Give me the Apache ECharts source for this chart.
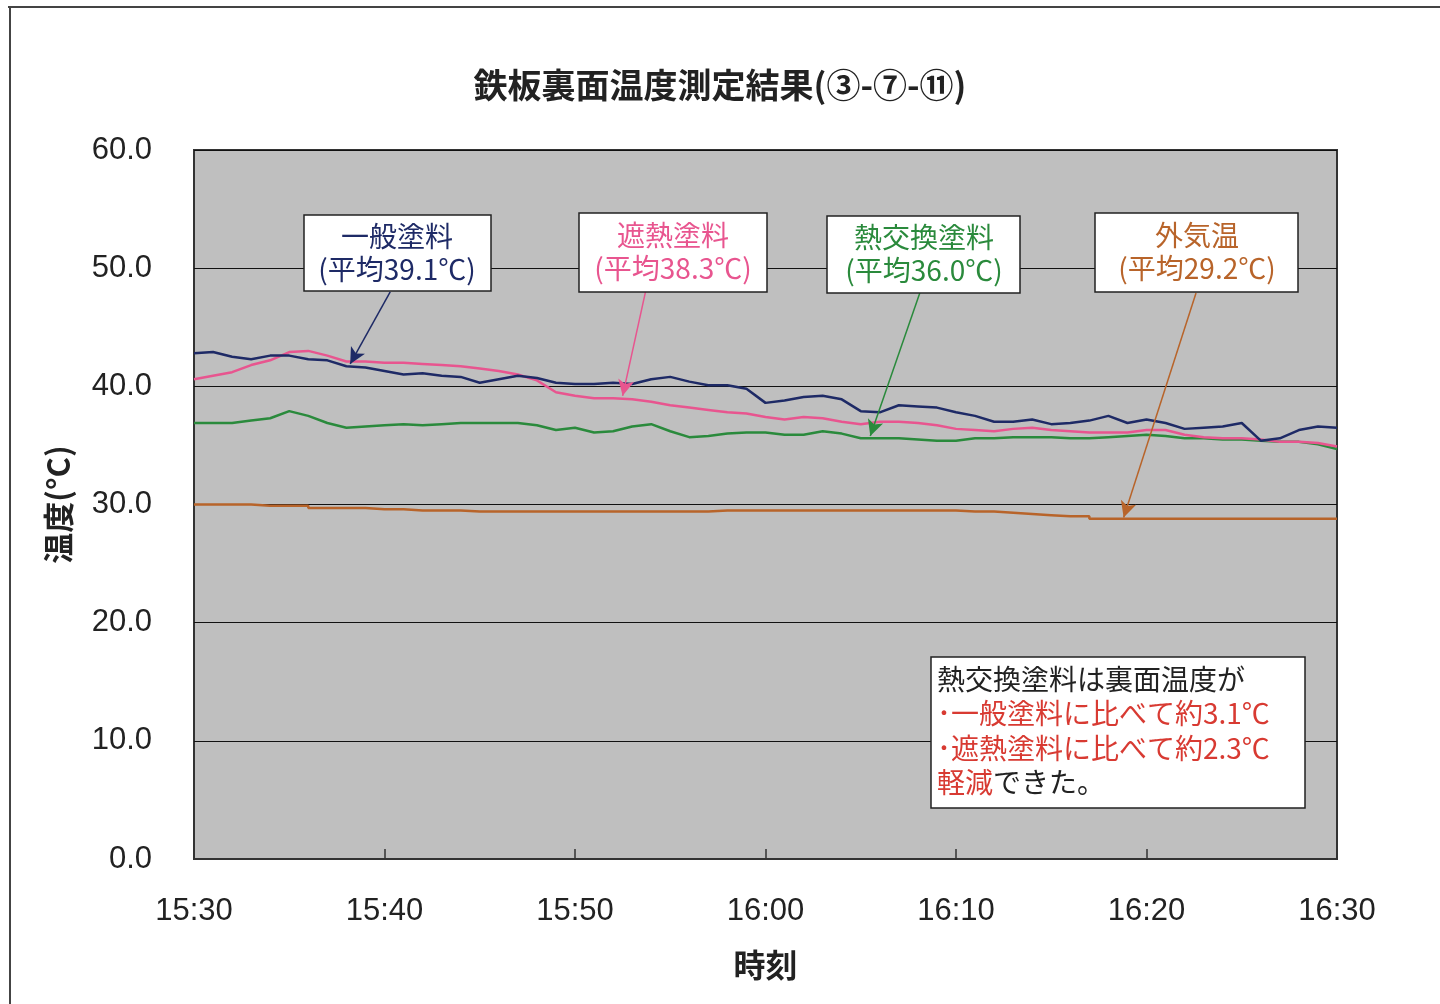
<!DOCTYPE html>
<html>
<head>
<meta charset="utf-8">
<script src="https://cdn.jsdelivr.net/npm/echarts@6/dist/echarts.min.js"></script>
<style>
html,body{margin:0;padding:0;background:#fff;}
#c{width:1440px;height:1004px;}
</style>
</head>
<body>
<div id="c"></div>
<script>
// minute offsets 0..60 from 15:30, one sample per minute
const xTickLabels = ['15:30','15:40','15:50','16:00','16:10','16:20','16:30'];
const yTickMin = 0, yTickMax = 60, yTickStep = 10;

const general = [42.8,42.9,42.5,42.3,42.6,42.6,42.3,42.2,41.7,41.6,
  41.3,41.0,41.1,40.9,40.8,40.3,40.6,40.9,40.7,40.3,
  40.2,40.2,40.3,40.2,40.6,40.8,40.4,40.1,40.1,39.8,
  38.6,38.8,39.1,39.2,38.9,37.9,37.8,38.4,38.3,38.2,
  37.8,37.5,37.0,37.0,37.2,36.8,36.9,37.1,37.5,36.9,
  37.2,36.9,36.4,36.5,36.6,36.9,35.4,35.6,36.3,36.6,36.5];
const heatShield = [40.6,40.9,41.2,41.8,42.2,42.9,43.0,42.6,42.1,42.1,
  42.0,42.0,41.9,41.8,41.7,41.5,41.3,41.0,40.5,39.5,
  39.2,39.0,39.0,38.9,38.7,38.4,38.2,38.0,37.8,37.7,
  37.4,37.2,37.4,37.3,37.0,36.8,37.0,37.0,36.9,36.7,
  36.4,36.3,36.2,36.4,36.5,36.3,36.2,36.1,36.1,36.1,
  36.3,36.3,35.9,35.7,35.6,35.6,35.5,35.3,35.3,35.2,34.9];
const heatExchange = [36.9,36.9,36.9,37.1,37.3,37.9,37.5,36.9,36.5,36.6,
  36.7,36.8,36.7,36.8,36.9,36.9,36.9,36.9,36.7,36.3,
  36.5,36.1,36.2,36.6,36.8,36.2,35.7,35.8,36.0,36.1,
  36.1,35.9,35.9,36.2,36.0,35.6,35.6,35.6,35.5,35.4,
  35.4,35.6,35.6,35.7,35.7,35.7,35.6,35.6,35.7,35.8,
  35.9,35.8,35.6,35.6,35.5,35.5,35.4,35.3,35.3,35.1,34.7];
const outdoor = [30.0,30.0,30.0,29.9,29.9,29.9,29.7,29.7,29.7,29.6,
  29.6,29.5,29.5,29.5,29.4,29.4,29.4,29.4,29.4,29.4,
  29.4,29.4,29.4,29.4,29.4,29.4,29.4,29.5,29.5,29.5,
  29.5,29.5,29.5,29.5,29.5,29.5,29.5,29.5,29.5,29.5,
  29.4,29.4,29.3,29.2,29.1,29.0,29.0,28.8,28.8,28.8,
  28.8,28.8,28.8,28.8,28.8,28.8,28.8,28.8,28.8,28.8,28.8];

// leader arrows: [from(minute,value), to(minute,value)]
const arrowGeneral = [[10.3,48.0],[8.2,41.9]];
const arrowShield = [[23.7,48.0],[22.5,39.2]];
const arrowExchange = [[38.1,47.9],[35.5,35.8]];
const arrowOutdoor = [[52.6,47.9],[48.8,28.9]];

const C_NAVY = '#1e2a66', C_PINK = '#e8558f', C_GREEN = '#2a8a3c', C_ORANGE = '#b8642a';
const CJK = '"Noto Sans CJK JP", "Liberation Sans", sans-serif';
const LAT = '"Liberation Sans", Arial, sans-serif';

function pairs(arr){ return arr.map((v,i)=>[i,v]); }
function arrow(a, color){
  return {
    silent:true, symbol:['none','arrow'], symbolSize:[12,16],
    label:{show:false},
    lineStyle:{color:color, width:1.5, type:'solid'},
    emphasis:{disabled:true},
    data:[[{coord:a[0]},{coord:a[1]}]]
  };
}

const chart = echarts.init(document.getElementById('c'));
function box(x,y,w,h){
  return {type:'rect', shape:{x:x,y:y,width:w,height:h}, style:{fill:'#fff', stroke:'#222', lineWidth:1.5}, z:100};
}
function txt(cx,cy,text,color){
  return {type:'text', x:cx, y:cy, z:101, style:{text:text, fill:color, font:'28px '+CJK, align:'center', verticalAlign:'middle'}};
}

chart.setOption({
  animation:false,
  backgroundColor:'#fff',
  title:{
    text:'鉄板裏面温度測定結果(③-⑦-⑪)',
    left:'center', top:63,
    textStyle:{fontFamily:CJK, fontSize:34, fontWeight:'bold', color:'#222'}
  },
  grid:{left:194, right:103, top:150, bottom:145, show:true, backgroundColor:'#bfbfbf', borderColor:'#333', borderWidth:2},
  xAxis:{
    type:'value', min:0, max:60, interval:10,
    name:'時刻', nameLocation:'middle', nameGap:90,
    nameTextStyle:{fontFamily:CJK, fontSize:32, fontWeight:'bold', color:'#222'},
    axisLine:{show:true, lineStyle:{color:'#333', width:2}},
    axisTick:{show:true, inside:true, length:10, lineStyle:{color:'#333', width:1.5}},
    splitLine:{show:false},
    axisLabel:{fontFamily:LAT, fontSize:31, color:'#222', margin:37,
      formatter:function(v){ return xTickLabels[Math.round(v/10)]; }}
  },
  yAxis:{
    type:'value', min:yTickMin, max:yTickMax, interval:yTickStep,
    name:'温度(°C)', nameLocation:'middle', nameGap:120, nameRotate:90,
    nameTextStyle:{fontFamily:CJK, fontSize:31, fontWeight:'bold', color:'#222'},
    axisLine:{show:false}, axisTick:{show:false},
    splitLine:{show:true, lineStyle:{color:'#111', width:1.2}},
    axisLabel:{fontFamily:LAT, fontSize:31, color:'#222', margin:42, padding:[8,0,0,0],
      formatter:function(v){ return v.toFixed(1); }}
  },
  series:[
    {name:'外気温', type:'line', data:pairs(outdoor), step:'end', showSymbol:false, lineStyle:{color:C_ORANGE, width:2.5}, itemStyle:{color:C_ORANGE}, markLine:arrow(arrowOutdoor,C_ORANGE)},
    {name:'熱交換塗料', type:'line', data:pairs(heatExchange), showSymbol:false, lineStyle:{color:C_GREEN, width:2.5}, itemStyle:{color:C_GREEN}, markLine:arrow(arrowExchange,C_GREEN)},
    {name:'遮熱塗料', type:'line', data:pairs(heatShield), showSymbol:false, lineStyle:{color:C_PINK, width:2.5}, itemStyle:{color:C_PINK}, markLine:arrow(arrowShield,C_PINK)},
    {name:'一般塗料', type:'line', data:pairs(general), showSymbol:false, lineStyle:{color:C_NAVY, width:2.5}, itemStyle:{color:C_NAVY}, markLine:arrow(arrowGeneral,C_NAVY)}
  ],
  graphic:[
    {type:'line', shape:{x1:8,y1:7,x2:1440,y2:7}, style:{stroke:'#444', lineWidth:2}},
    {type:'line', shape:{x1:10,y1:7,x2:10,y2:1004}, style:{stroke:'#444', lineWidth:2}},
    box(304,215,187,76), txt(397,236,'一般塗料',C_NAVY), txt(397,269,'(平均39.1℃)',C_NAVY),
    box(579,213,188,79), txt(673,235,'遮熱塗料',C_PINK), txt(673,268,'(平均38.3℃)',C_PINK),
    box(827,216,193,77), txt(924,237,'熱交換塗料',C_GREEN), txt(924,270,'(平均36.0℃)',C_GREEN),
    box(1095,213,203,79), txt(1197,235,'外気温',C_ORANGE), txt(1197,268,'(平均29.2℃)',C_ORANGE),
    box(931,657,374,151),
    {type:'text', x:937, y:662, z:101, style:{
      text:'熱交換塗料は裏面温度が\n{r|･一般塗料に比べて約3.1℃}\n{r|･遮熱塗料に比べて約2.3℃}\n{r|軽減}できた。',
      fill:'#222', font:'28px '+CJK, lineHeight:34.5, align:'left', verticalAlign:'top',
      rich:{r:{fill:'#d83a32', font:'28px '+CJK, lineHeight:34.5}}
    }}
  ]
});
</script>
</body>
</html>
